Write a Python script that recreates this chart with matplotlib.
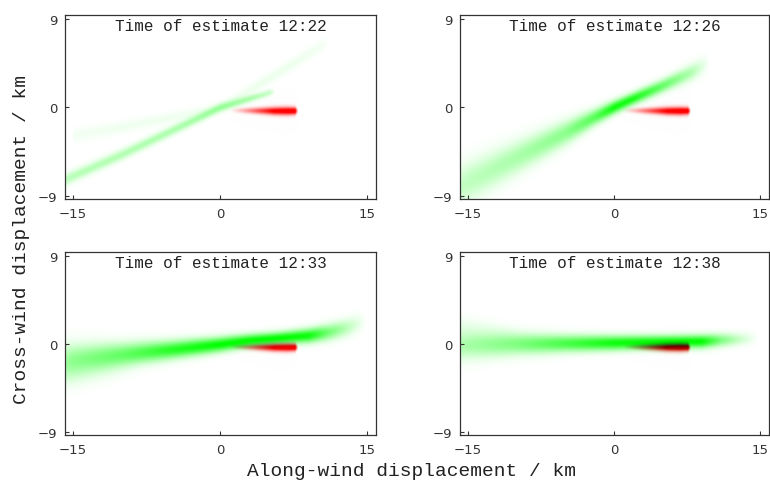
import numpy as np
import matplotlib
matplotlib.use("Agg")
import matplotlib.pyplot as plt

# estimate times for the four panels
times = ["12:22", "12:26", "12:33", "12:38"]

# green plume estimate, as centreline knots per branch (x, y, spread, level)
p1_main_x = [-15.8, -15, -10, -5, 0, 3, 5.0, 5.6]
p1_main_y = [-7.4, -7.0, -4.8, -2.4, 0, 0.9, 1.5, 1.7]
p1_main_s = [0.42, 0.4, 0.37, 0.34, 0.3, 0.25, 0.22, 0.2]
p1_main_l = [0.26, 0.28, 0.3, 0.32, 0.38, 0.33, 0.22, 0.0]
p1_low_x = [-15.0, -10, -5, 0]
p1_low_y = [-2.9, -2.0, -1.0, 0]
p1_low_s = [0.45, 0.4, 0.35, 0.3]
p1_low_l = [0.05, 0.06, 0.06, 0.04]
p1_up_x = [0, 4, 7, 10.3, 11]
p1_up_y = [0, 2.4, 4.2, 6.3, 6.7]
p1_up_s = [0.35, 0.38, 0.4, 0.4, 0.4]
p1_up_l = [0.04, 0.07, 0.07, 0.05, 0.0]

p2_x = [-15.8, -15, -10, -5, -2, 0, 2, 5, 8, 9.8]
p2_y = [-8.1, -7.6, -5.1, -2.6, -1.0, 0, 0.9, 2.2, 3.6, 4.6]
p2_s = [1.4, 1.35, 1.08, 0.8, 0.55, 0.45, 0.42, 0.45, 0.55, 0.6]
p2_l = [0.22, 0.25, 0.33, 0.45, 0.65, 0.95, 0.9, 0.6, 0.3, 0.0]

p3_x = [-15.8, -15, -10, -5, 0, 3, 6, 9, 11, 13, 14.8]
p3_y = [-1.7, -1.6, -1.1, -0.6, -0.05, 0.35, 0.6, 0.85, 1.2, 1.7, 2.4]
p3_s = [1.1, 1.05, 0.8, 0.62, 0.5, 0.44, 0.42, 0.48, 0.55, 0.6, 0.6]
p3_l = [0.35, 0.42, 0.6, 0.85, 1.0, 1.0, 1.0, 0.95, 0.55, 0.25, 0.0]
p3_tail_x = [-15.8, -15, -11, -8]
p3_tail_y = [-3.2, -3.1, -2.5, -2.0]
p3_tail_s = [0.9, 0.9, 0.8, 0.7]
p3_tail_l = [0.10, 0.10, 0.06, 0.0]

p4_x = [-15.8, -15, -10, -5, 0, 5, 9, 11, 13, 14.8]
p4_y = [-0.15, -0.1, 0.0, 0.05, 0.1, 0.2, 0.25, 0.4, 0.5, 0.6]
p4_s = [1.0, 0.95, 0.74, 0.58, 0.5, 0.45, 0.45, 0.45, 0.42, 0.4]
p4_l = [0.30, 0.35, 0.5, 0.72, 0.95, 1.0, 1.0, 0.5, 0.2, 0.0]
p4_tail_x = [-15.8, -15, -12, -9]
p4_tail_y = [1.9, 1.8, 1.4, 1.0]
p4_tail_s = [0.7, 0.7, 0.6, 0.5]
p4_tail_l = [0.06, 0.06, 0.04, 0.0]

green_branches = [
    [(p1_main_x, p1_main_y, p1_main_s, p1_main_l),
     (p1_low_x, p1_low_y, p1_low_s, p1_low_l),
     (p1_up_x, p1_up_y, p1_up_s, p1_up_l)],
    [(p2_x, p2_y, p2_s, p2_l)],
    [(p3_x, p3_y, p3_s, p3_l), (p3_tail_x, p3_tail_y, p3_tail_s, p3_tail_l)],
    [(p4_x, p4_y, p4_s, p4_l), (p4_tail_x, p4_tail_y, p4_tail_s, p4_tail_l)],
]

# red observed plume (same in every panel)
red_x = [1.0, 2.5, 4.0, 5.5, 6.8, 7.6, 7.9]
red_y = [-0.3, -0.32, -0.34, -0.36, -0.36, -0.35, -0.35]
red_s = [0.14, 0.19, 0.23, 0.27, 0.28, 0.26, 0.14]
red_l = [0.0, 0.3, 0.62, 0.92, 1.0, 1.0, 0.0]

xlim = (-15.8, 15.9)
ylim = (-9.3, 9.4)
xticks = [-15, 0, 15]
yticks = [-9, 0, 9]

gx = np.linspace(xlim[0], xlim[1], 600)
gy = np.linspace(ylim[0], ylim[1], 360)
X, Y = np.meshgrid(gx, gy)


def density(branch):
    bx, by, bs, bl = branch
    cy = np.interp(gx, bx, by)
    cs = np.interp(gx, bx, bs)
    cl = np.interp(gx, bx, bl, left=0, right=0)
    return cl[None, :] * np.exp(-0.5 * ((Y - cy[None, :]) / cs[None, :]) ** 2)


red = np.clip(1.15 * density((red_x, red_y, red_s, red_l)), 0, 1)

mono = "Liberation Mono"
fig = plt.figure(figsize=(7.7, 4.81), dpi=100)
W, H = 770, 481
boxes = [(65, 16, 376, 200), (460, 16, 769, 200),
         (65, 253, 376, 436), (460, 253, 769, 436)]

for k, (l, t, r, b) in enumerate(boxes):
    ax = fig.add_axes([l / W, 1 - b / H, (r - l) / W, (b - t) / H])
    g = np.zeros_like(X)
    for br in green_branches[k]:
        g += density(br)
    g = np.clip(g, 0, 1)
    img = np.dstack([1 - g, 1 - red, (1 - g) * (1 - red)])
    ax.imshow(img, extent=[xlim[0], xlim[1], ylim[0], ylim[1]],
              origin="lower", aspect="auto", interpolation="bilinear")
    ax.set_xlim(xlim)
    ax.set_ylim(ylim)
    ax.set_xticks(xticks)
    ax.set_yticks(yticks)
    ax.set_xticklabels([str(v).replace("-", "\u2212") for v in xticks],
                       fontfamily="DejaVu Sans", fontsize=9.5)
    ax.set_yticklabels([str(v).replace("-", "\u2212") for v in yticks],
                       fontfamily="DejaVu Sans", fontsize=9.5)
    ax.tick_params(direction="in", length=3, width=0.8, color="#333333",
                   pad=5.5, labelcolor="#333333")
    for sp in ax.spines.values():
        sp.set_color("#333333")
        sp.set_linewidth(0.9)
    ax.text(0.5, 0.985, "Time of estimate " + times[k], transform=ax.transAxes,
            ha="center", va="top", fontfamily=mono, fontsize=11.5, color="#222222")

fig.text(412 / W, 1 - 472 / H, "Along-wind displacement / km", ha="center",
         va="center", fontfamily=mono, fontsize=14, color="#222222")
fig.text(22 / W, 1 - 239 / H, "Cross-wind displacement / km", ha="center",
         va="center", rotation=90, fontfamily=mono, fontsize=14, color="#222222")

fig.savefig("out.png", dpi=100)
